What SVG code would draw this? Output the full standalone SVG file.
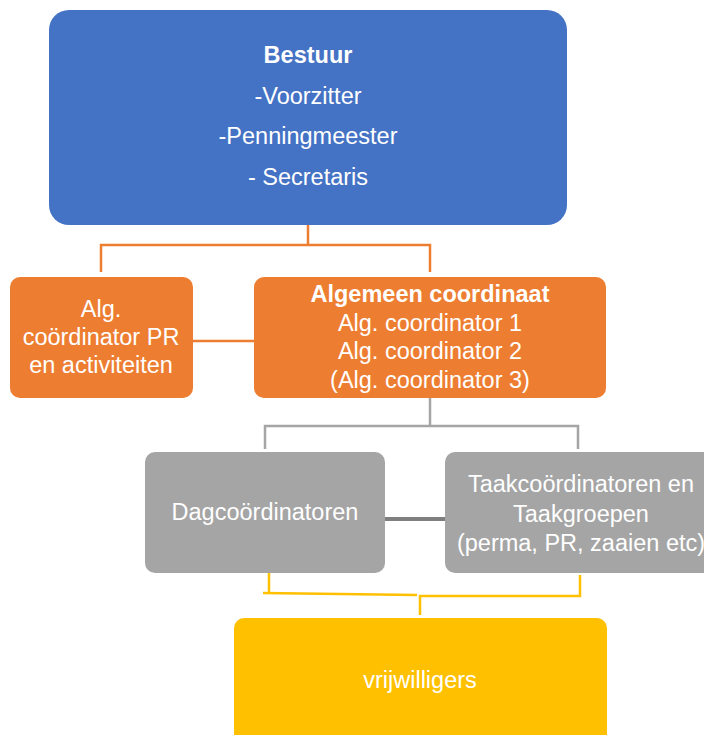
<svg xmlns="http://www.w3.org/2000/svg" width="704" height="735" viewBox="0 0 704 735">
<style>
text{font-family:"Liberation Sans",Arial,sans-serif;fill:#fff;text-anchor:middle;font-size:23.5px}
.b{font-weight:bold}
.c{fill:none;stroke-width:2.5}
</style>
<rect width="704" height="735" fill="#fff"/>
<g id="connectors">
<polyline class="c" stroke="#ED7D31" points="101,272 101,245 430,245 430,272"/>
<line class="c" stroke="#ED7D31" x1="308" y1="225" x2="308" y2="245"/>
<line class="c" stroke="#ED7D31" x1="193" y1="341" x2="254" y2="341"/>
<polyline class="c" stroke="#A5A5A5" points="265,449 265,426 578,426 578,449"/>
<line class="c" stroke="#A5A5A5" x1="430" y1="398" x2="430" y2="426"/>
<line stroke="#7F7F7F" stroke-width="4" x1="385" y1="519" x2="445" y2="519"/>
<polyline class="c" stroke="#FFC000" points="269,572 269,593"/>
<polyline class="c" stroke="#FFC000" points="263,593 417,595"/>
<polyline class="c" stroke="#FFC000" points="420,615 420,596 580,596 580,575"/>
</g>
<g id="bestuur">
<rect x="49" y="10" width="518" height="215" rx="20" fill="#4472C4"/>
<text x="308" y="63" class="b">Bestuur</text>
<text x="308" y="104">-Voorzitter</text>
<text x="308" y="144">-Penningmeester</text>
<text x="308" y="185">- Secretaris</text>
</g>
<g id="pr">
<rect x="10" y="277" width="183" height="121" rx="10" fill="#ED7D31"/>
<text x="101" y="317">Alg.</text>
<text x="101" y="345">coördinator PR</text>
<text x="101" y="373">en activiteiten</text>
</g>
<g id="algemeen">
<rect x="254" y="277" width="352" height="121" rx="10" fill="#ED7D31"/>
<text x="430" y="302" class="b">Algemeen coordinaat</text>
<text x="430" y="331">Alg. coordinator 1</text>
<text x="430" y="359">Alg. coordinator 2</text>
<text x="430" y="388">(Alg. coordinator 3)</text>
</g>
<g id="dag">
<rect x="145" y="452" width="240" height="121" rx="10" fill="#A5A5A5"/>
<text x="265" y="520">Dagcoördinatoren</text>
</g>
<g id="taak">
<rect x="445" y="452" width="270" height="121" rx="10" fill="#A5A5A5"/>
<text x="581" y="492">Taakcoördinatoren en</text>
<text x="581" y="522">Taakgroepen</text>
<text x="581" y="551">(perma, PR, zaaien etc)</text>
</g>
<g id="vrijwilligers">
<rect x="234" y="618" width="373" height="130" rx="10" fill="#FFC000"/>
<text x="420" y="688">vrijwilligers</text>
</g>
</svg>
